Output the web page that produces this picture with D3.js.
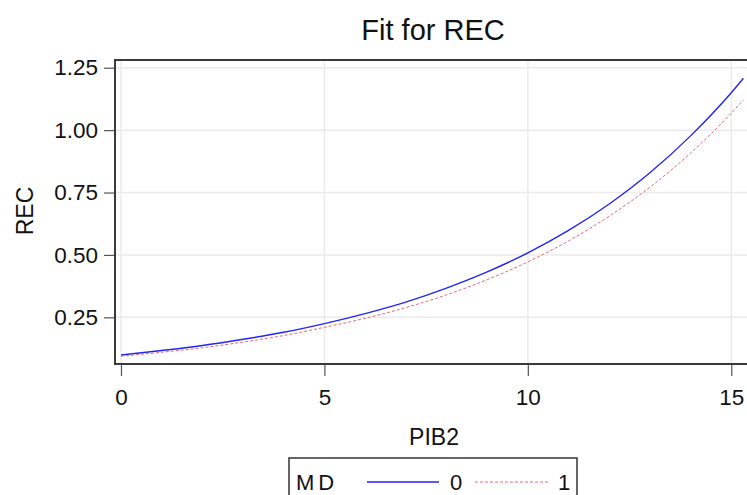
<!DOCTYPE html>
<html>
<head>
<meta charset="utf-8">
<script src="https://cdn.jsdelivr.net/npm/d3@7"></script>
<style>
  body { margin: 0; background: #fff; }
  text { font-family: "Liberation Sans", Arial, sans-serif; fill: #111; }
</style>
</head>
<body>
<div id="chart"></div>
<script>
// values
let pib2 = [0, 1, 2, 3, 4, 5, 6, 7, 8, 9, 10, 11, 12, 13, 14, 15, 15.3];
let rec0 = [0.099, 0.117, 0.137, 0.162, 0.190, 0.225, 0.265, 0.311, 0.367, 0.432, 0.508, 0.598, 0.704, 0.829, 0.977, 1.150, 1.208];
let rec1 = [0.094, 0.110, 0.128, 0.151, 0.177, 0.210, 0.246, 0.289, 0.340, 0.401, 0.472, 0.556, 0.655, 0.771, 0.908, 1.068, 1.121];
let xTicks = [0, 5, 10, 15];
let yTicks = [0.25, 0.50, 0.75, 1.00, 1.25];
let groups = ['0', '1'];

let sizes = {width: 747, height: 495};
let plot = {left: 115, top: 60, right: 752, bottom: 364};

let svg = d3.select('#chart').append('svg')
    .attr('width', sizes.width)
    .attr('height', sizes.height);

let x = d3.scaleLinear().domain([-0.147, 15.51]).range([plot.left, plot.right]);
let y = d3.scaleLinear().domain([0.063, 1.281]).range([plot.bottom, plot.top]);

// grid
svg.append('g').selectAll('line')
    .data(yTicks).enter().append('line')
    .attr('x1', plot.left).attr('x2', plot.right)
    .attr('y1', d => y(d)).attr('y2', d => y(d))
    .attr('stroke', '#ebebeb').attr('stroke-width', 1.5);
svg.append('g').selectAll('line')
    .data(xTicks).enter().append('line')
    .attr('y1', plot.top).attr('y2', plot.bottom)
    .attr('x1', d => x(d)).attr('x2', d => x(d))
    .attr('stroke', '#ebebeb').attr('stroke-width', 1.5);

// axes
let yAxis = d3.axisLeft(y).tickValues(yTicks).tickFormat(d3.format('.2f')).tickSize(11).tickPadding(6);
let xAxis = d3.axisBottom(x).tickValues(xTicks).tickFormat(d3.format('d')).tickSize(12).tickPadding(13);

let gy = svg.append('g').attr('transform', `translate(${plot.left},0)`).call(yAxis);
let gx = svg.append('g').attr('transform', `translate(0,${plot.bottom})`).call(xAxis);
[gy, gx].forEach(g => {
    g.select('.domain').remove();
    g.selectAll('.tick line').attr('stroke', '#555').attr('stroke-width', 1.2);
    g.selectAll('.tick text').style('font-size', '22.5px').attr('fill', '#111')
        .style('font-family', '"Liberation Sans", Arial, sans-serif');
});
gx.selectAll('.tick text').attr('dy', '0.71em');

// frame
svg.append('path')
    .attr('d', `M${plot.right},${plot.top}H${plot.left}V${plot.bottom}H${plot.right}`)
    .attr('fill', 'none').attr('stroke', '#3a3a3a').attr('stroke-width', 2);

// lines
let line0 = d3.line().x((d, i) => x(pib2[i])).y(d => y(d)).curve(d3.curveMonotoneX);
svg.append('path').datum(rec0)
    .attr('d', line0).attr('fill', 'none')
    .attr('stroke', '#2424f0').attr('stroke-width', 1.4);
svg.append('path').datum(rec1)
    .attr('d', line0).attr('fill', 'none')
    .attr('stroke', '#e06a78').attr('stroke-width', 1)
    .attr('stroke-dasharray', '3,2');

// titles
svg.append('text').attr('x', 433).attr('y', 40)
    .attr('text-anchor', 'middle').style('font-size', '29px')
    .text('Fit for REC');
svg.append('text').attr('x', 434).attr('y', 445)
    .attr('text-anchor', 'middle').style('font-size', '23px')
    .text('PIB2');
svg.append('text')
    .attr('transform', 'translate(33,211) rotate(-90)')
    .attr('text-anchor', 'middle').style('font-size', '23px')
    .text('REC');

// legend
let leg = svg.append('g');
leg.append('rect')
    .attr('x', 289).attr('y', 458).attr('width', 288).attr('height', 50)
    .attr('fill', '#fff').attr('stroke', '#333').attr('stroke-width', 1.5);
leg.append('text').attr('x', 296).attr('y', 490)
    .style('font-size', '22px').style('letter-spacing', '4px')
    .text('MD');
let legItems = [
    {x1: 367, x2: 439, tx: 450, color: '#2424f0', width: 1.4, dash: null},
    {x1: 475, x2: 548, tx: 558, color: '#e06a78', width: 1, dash: '3,2'}
];
legItems.forEach((it, i) => {
    leg.append('line')
        .attr('x1', it.x1).attr('x2', it.x2).attr('y1', 482).attr('y2', 482)
        .attr('stroke', it.color).attr('stroke-width', it.width)
        .attr('stroke-dasharray', it.dash);
    leg.append('text').attr('x', it.tx).attr('y', 490)
        .style('font-size', '22px').text(groups[i]);
});
</script>
</body>
</html>
